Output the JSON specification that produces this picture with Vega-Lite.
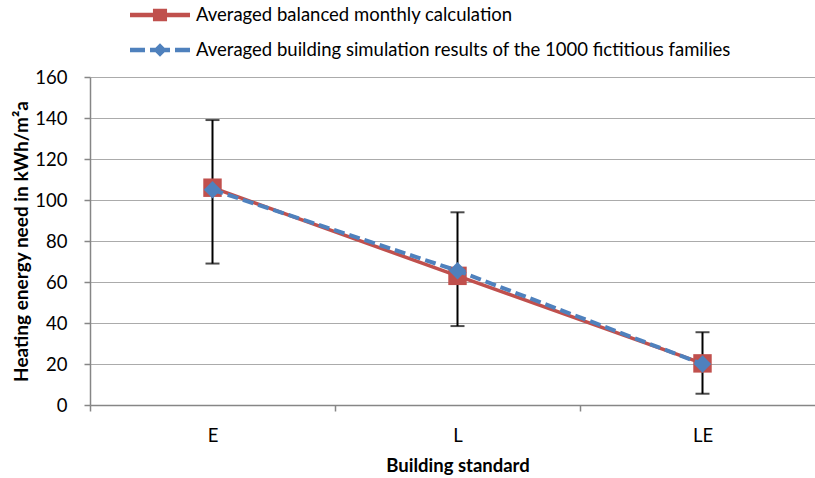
{
  "$schema": "https://vega.github.io/schema/vega-lite/v6.json",
  "width": 725,
  "height": 328,
  "autosize": {"type": "none"},
  "padding": {"left": 90, "top": 77, "right": 0, "bottom": 73},
  "background": "white",
  "config": {
    "view": {"stroke": null},
    "font": "Lato",
    "axis": {"labelColor": "black", "titleColor": "black", "labelFont": "Lato", "titleFont": "Lato"}
  },
  "datasets": {
    "series": [
      {"standard": "E", "series": "Averaged balanced monthly calculation", "value": 106},
      {"standard": "L", "series": "Averaged balanced monthly calculation", "value": 63},
      {"standard": "LE", "series": "Averaged balanced monthly calculation", "value": 20.3},
      {"standard": "E", "series": "Averaged building simulation results of the 1000 fictitious families", "value": 105},
      {"standard": "L", "series": "Averaged building simulation results of the 1000 fictitious families", "value": 65.5},
      {"standard": "LE", "series": "Averaged building simulation results of the 1000 fictitious families", "value": 20}
    ],
    "errors": [
      {"standard": "E", "low": 69, "high": 139},
      {"standard": "L", "low": 38.5, "high": 94},
      {"standard": "LE", "low": 5.5, "high": 35.5}
    ]
  },
  "encoding": {
    "x": {
      "field": "standard",
      "type": "nominal",
      "sort": ["E", "L", "LE"],
      "scale": {"range": [0, 735], "paddingInner": 0, "paddingOuter": 0},
      "axis": {
        "title": "Building standard",
        "titleFontWeight": "bold",
        "titleFontSize": 18.5,
        "titlePadding": 12,
        "labelAngle": 0,
        "labelFontSize": 18.5,
        "labelPadding": 15,
        "domainColor": "#868686",
        "domainWidth": 1.5,
        "tickColor": "#868686",
        "tickWidth": 1.5,
        "tickSize": 6,
        "tickBand": "extent",
        "grid": false
      }
    }
  },
  "layer": [
    {
      "data": {"name": "errors"},
      "mark": {"type": "rule", "color": "black", "strokeWidth": 2},
      "encoding": {
        "y": {
          "field": "low",
          "type": "quantitative",
          "scale": {"domain": [0, 160], "nice": false},
          "axis": {
            "title": "Heating energy need in kWh/m²a",
            "titleFontWeight": "bold",
            "titleFontSize": 19,
            "titlePadding": 3,
            "values": [0, 20, 40, 60, 80, 100, 120, 140, 160],
            "labelFontSize": 18.5,
            "labelPadding": 17,
            "domainColor": "#868686",
            "domainWidth": 1.5,
            "tickColor": "#868686",
            "tickWidth": 1.5,
            "tickSize": 6,
            "grid": true,
            "gridColor": "#ABABAB",
            "gridWidth": 1.2
          }
        },
        "y2": {"field": "high"}
      }
    },
    {
      "data": {"name": "errors"},
      "mark": {"type": "tick", "color": "black", "size": 14, "thickness": 2},
      "encoding": {"y": {"field": "high", "type": "quantitative"}}
    },
    {
      "data": {"name": "errors"},
      "mark": {"type": "tick", "color": "black", "size": 14, "thickness": 2},
      "encoding": {"y": {"field": "low", "type": "quantitative"}}
    },
    {
      "data": {"name": "series"},
      "transform": [{"filter": "datum.series === 'Averaged balanced monthly calculation'"}],
      "mark": {"type": "line", "strokeWidth": 3.5, "point": {"shape": "square", "size": 340, "filled": true, "opacity": 1}},
      "encoding": {
        "y": {"field": "value", "type": "quantitative"},
        "color": {
          "field": "series",
          "type": "nominal",
          "scale": {
            "domain": ["Averaged balanced monthly calculation", "Averaged building simulation results of the 1000 fictitious families"],
            "range": ["#C0504D", "#4F81BD"]
          },
          "legend": {
            "orient": "none",
            "legendX": 40,
            "legendY": -77,
            "direction": "vertical",
            "title": null,
            "symbolSize": 900,
            "labelFontSize": 18.5,
            "labelFont": "Lato",
            "labelColor": "black",
            "labelOffset": 36,
            "rowPadding": 10,
            "labelLimit": 700,
            "encode": {
              "symbols": {
                "update": {
                  "shape": {"signal": "datum.value === 'Averaged balanced monthly calculation' ? 'M-1,-0.15H3V0.15H-1Z M0.53,-0.42H1.47V0.42H0.53Z' : 'M-1,-0.15H0V0.15H-1Z M0.333,-0.15H0.8V0.15H0.333Z M1,-0.45L1.45,0L1,0.45L0.55,0Z M1.2,-0.15H1.667V0.15H1.2Z M2,-0.15H3V0.15H2Z'"},
                  "fill": {"scale": "color", "field": "value"},
                  "stroke": {"value": "transparent"},
                  "strokeWidth": {"value": 0},
                  "opacity": {"value": 1}
                }
              }
            }
          }
        }
      }
    },
    {
      "data": {"name": "series"},
      "transform": [{"filter": "datum.series !== 'Averaged balanced monthly calculation'"}],
      "mark": {"type": "line", "strokeWidth": 4, "strokeDash": [11, 5], "point": {"shape": "diamond", "size": 300, "filled": true, "opacity": 1}},
      "encoding": {
        "y": {"field": "value", "type": "quantitative"},
        "color": {"field": "series", "type": "nominal"}
      }
    }
  ]
}
